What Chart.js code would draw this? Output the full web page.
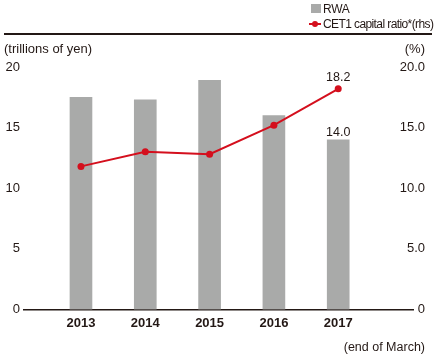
<!DOCTYPE html>
<html>
<head>
<meta charset="utf-8">
<script src="https://cdn.jsdelivr.net/npm/chart.js@4/dist/chart.umd.min.js"></script>
<style>
  html, body { margin: 0; padding: 0; background: #fff; }
  #wrap { position: relative; width: 436px; height: 356px; overflow: hidden;
          font-family: "Liberation Sans", Arial, Helvetica, sans-serif; color: #231815; }
  #wrap canvas { position: absolute; left: 0; top: 0; }
  .t { position: absolute; white-space: nowrap; line-height: 16px; }
  .sw { position: absolute; }
</style>
</head>
<body>
<div id="wrap">
  <canvas id="c" width="436" height="356"></canvas>
  <div class="sw" style="left:311px;top:4px;width:10px;height:9px;background:#a9aaa9;"></div>
  <div class="t" style="left:323px;top:1px;font-size:12px;letter-spacing:-0.3px;">RWA</div>
  <div class="sw" style="left:309px;top:23px;width:12px;height:2px;background:#d40f1d;"></div>
  <div class="sw" style="left:312px;top:21px;width:6px;height:6px;border-radius:3px;background:#d40f1d;"></div>
  <div class="t" style="left:323px;top:16px;font-size:12px;letter-spacing:-0.6px;">CET1 capital ratio*(rhs)</div>
  <div class="sw" style="left:4px;right:4px;top:33px;height:2px;background:#231815;"></div>
  <div class="t" style="left:4px;top:41px;font-size:13px;">(trillions of yen)</div>
  <div class="t" style="right:11px;top:41px;font-size:13px;">(%)</div>
  <div class="t" style="right:11px;top:339px;font-size:12.5px;">(end of March)</div>
</div>
<script>
const years = ['2013', '2014', '2015', '2016', '2017'];
const rwa = [17.5, 17.3, 18.9, 16.0, 14.0];
const cet1 = [11.8, 13.0, 12.8, 15.2, 18.2];
const leftTicks = [0, 5, 10, 15, 20];
const rightTickLabels = ['0', '5.0', '10.0', '15.0', '20.0'];
const labelLastRwa = '14.0';
const labelLastCet1 = '18.2';

const FONT = '"Liberation Sans", Arial, Helvetica, sans-serif';
const INK = '#231815';
const RED = '#d40f1d';
const GRAY = '#a9aaa9';

const valueLabels = {
  id: 'valueLabels',
  afterDatasetsDraw(chart) {
    const ctx = chart.ctx;
    ctx.save();
    ctx.fillStyle = INK;
    ctx.font = '12.5px ' + FONT;
    ctx.textAlign = 'center';
    ctx.textBaseline = 'alphabetic';
    const barEl = chart.getDatasetMeta(0).data[rwa.length - 1];
    ctx.fillText(labelLastRwa, barEl.x, barEl.y - 4);
    const ptEl = chart.getDatasetMeta(1).data[cet1.length - 1];
    ctx.fillText(labelLastCet1, ptEl.x, ptEl.y - 8);
    ctx.restore();
  }
};

new Chart(document.getElementById('c'), {
  type: 'bar',
  data: {
    datasets: [
      {
        type: 'bar',
        label: 'RWA',
        data: years.map((y, i) => ({ x: i, y: rwa[i] })),
        backgroundColor: GRAY,
        borderWidth: 0,
        barThickness: 22,
        yAxisID: 'y',
        order: 2
      },
      {
        type: 'line',
        label: 'CET1 capital ratio*(rhs)',
        data: years.map((y, i) => ({ x: i, y: cet1[i] })),
        borderColor: RED,
        backgroundColor: RED,
        borderWidth: 2,
        pointRadius: 3.5,
        pointBackgroundColor: RED,
        pointBorderWidth: 0,
        tension: 0,
        yAxisID: 'y2',
        order: 1
      }
    ]
  },
  options: {
    responsive: false,
    animation: false,
    events: [],
    layout: { padding: { top: 67, right: 11, bottom: 19, left: 0 } },
    plugins: { legend: { display: false }, tooltip: { enabled: false } },
    scales: {
      x: {
        type: 'linear',
        min: -0.886,
        max: 5.163,
        offset: false,
        grid: { display: false, drawTicks: false },
        border: { display: true, color: INK, width: 1.5 },
        afterBuildTicks(scale) { scale.ticks = years.map((y, i) => ({ value: i })); },
        ticks: {
          padding: 6,
          color: INK,
          font: { family: FONT, size: 13, weight: 'bold' },
          callback: (v) => years[v] ?? '',
          maxRotation: 0,
          autoSkip: false
        }
      },
      y: {
        position: 'left',
        min: 0,
        max: 20,
        grid: { display: false, drawTicks: false },
        border: { display: false },
        afterBuildTicks(scale) { scale.ticks = leftTicks.map(v => ({ value: v })); },
        afterFit(scale) { scale.width = 24; },
        ticks: { padding: 4, color: INK, font: { family: FONT, size: 13 } }
      },
      y2: {
        position: 'right',
        min: 0,
        max: 20,
        grid: { display: false, drawTicks: false },
        border: { display: false },
        afterBuildTicks(scale) { scale.ticks = leftTicks.map(v => ({ value: v })); },
        afterFit(scale) { scale.width = 12; },
        ticks: {
          mirror: true,
          padding: 12,
          crossAlign: 'near',
          color: INK,
          font: { family: FONT, size: 13 },
          callback: (v, i) => rightTickLabels[i]
        }
      }
    }
  },
  plugins: [valueLabels]
});
</script>
</body>
</html>
